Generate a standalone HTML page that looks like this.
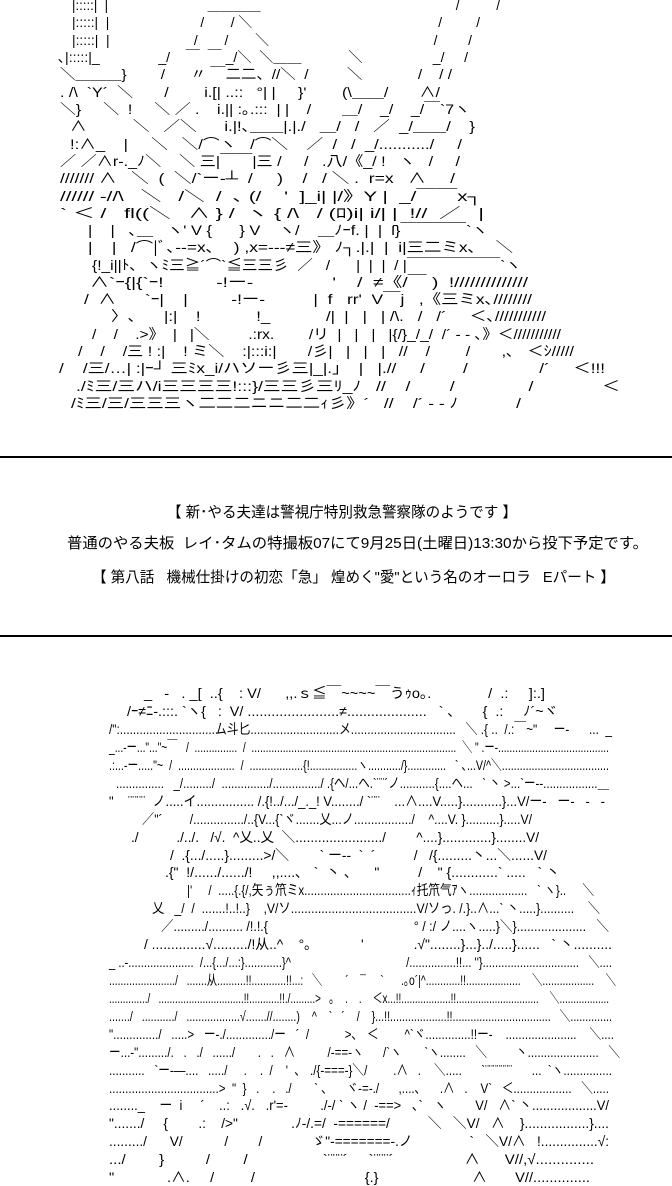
<!DOCTYPE html>
<html><head><meta charset="utf-8">
<style>
html,body{margin:0;padding:0;background:#fff;}
body{width:672px;height:1185px;position:relative;overflow:hidden;font-family:"Liberation Sans","Noto Sans CJK JP",sans-serif;color:#000;}
.f{position:absolute;white-space:pre;font-size:14px;line-height:18px;height:18px;transform-origin:0 0;}
.t{position:absolute;white-space:pre;font-size:15px;line-height:18px;transform-origin:0 0;}
.hr{position:absolute;left:0;width:672px;height:2px;background:#000;}
</style></head><body>

<div class="f" style="top:-4px;--l:72;--r:500">|:::::|  |                           ＿＿＿＿                                                     /          /</div>
<div class="f" style="top:13px;--l:72;--r:480">|:::::|  |                        /       / ＼                                                 /         /</div>
<div class="f" style="top:31px;--l:72;--r:472">|:::::|  |                      /       /       ＼                                           /        /</div>
<div class="f" style="top:48px;--l:58;--r:468">､|:::::|_               _/    ￣  ￣ _/＼  ＼＿＿            ＼                  _/     /</div>
<div class="f" style="top:65px;--l:60;--r:452">＼＿＿＿}        /      〃 ￣二二、//＼  /         ＼             /    / /</div>
<div class="f" style="top:83px;--l:60;--r:440">. /\  `Y´  ＼       /        i.[| ..::   °| |     }'        (\＿＿/       ∧/</div>
<div class="f" style="top:100px;--l:60;--r:470">＼}     ＼  !     ＼ ／ .    i.|| :｡.:::  | |    /       ＿/    _/    _/￣`7ヽ</div>
<div class="f" style="top:117px;--l:70;--r:475">∧          ＼   ／＼      i.|!､＿＿|.|./   ＿/   /   ／  _/＿＿/    }</div>
<div class="f" style="top:135px;--l:70;--r:462">!:∧_    |     ＼   ＼/⌒ヽ   /⌒＼    ／  /   /  _/.........../     /</div>
<div class="f" style="top:152px;--l:60;--r:460">／ ／∧r-._ﾉ＼    ＼ 三|￣￣|三 /     /   .八/《_/ !   ヽ   /     /</div>
<div class="f" style="top:169px;--l:60;--r:455">/////// ∧   ＼  (  ＼/`ー-┴  /     )    /   / ＼ .  r=x   ∧     /</div>
<div class="f" style="top:187px;--l:60;--r:482">////// -//\   ＼   /＼  /  ､ (/    '  ]_i| |/》Y |  _/￣￣x┐</div>
<div class="f" style="top:204px;--l:60;--r:484">` ＜ /   fl((＼   ∧ } /  ヽ { /\   / (ﾛ)i| i/| |  !//  ／   |</div>
<div class="f" style="top:221px;--l:88;--r:488">|    |   ､＿   ヽ' V {      } V    ヽ/    ＿ﾉｰf. |  |  ſ}￣￣￣￣`ヽ</div>
<div class="f" style="top:238px;--l:88;--r:513">|    |   /⌒|ﾞ､--=x､    ) ,x=---≠三》 ﾉ┐.|.|  |  i|三二ミx､    ＼</div>
<div class="f" style="top:256px;--l:92;--r:521">{!_i||ﾄ､  ヽﾐ三≧´⌒`≦三三彡  ／   /      |  |  |  / |￣￣￣￣￣￣`ヽ</div>
<div class="f" style="top:273px;--l:90;--r:528">∧`ｰ{|{`ｰ!          -!ー-               '    /  ≠《/￣ )  !//////////////</div>
<div class="f" style="top:290px;--l:84;--r:532">/  ∧      `ｰ|    |         -!ー-          |  f   rr'  V￣j   ,《三ミx､////////</div>
<div class="f" style="top:307px;--l:111;--r:546">〉､      |:|    !            !_            /|  |   |   | /\.   /   /´     ＜､///////////</div>
<div class="f" style="top:325px;--l:92;--r:561">/    /    .&gt;》  |   |＼         .:rx.        /リ  |   |   |   |{/}_/_/  /´ ‐ ‐ ､》＜///////////</div>
<div class="f" style="top:342px;--l:78;--r:574">/    /    /三 ! :|    ! ミ＼    :|:::i:|       /彡|   |   |   |   //    /        /       ,､   ＜ｼ/////</div>
<div class="f" style="top:359px;--l:59;--r:605">/    /三/…| :|ｰ┘ 三ﾐx_i/ハソー彡三|_|.」  |   |.//     /        /               /´     ＜!!!</div>
<div class="f" style="top:377px;--l:76;--r:620">./ﾐ三/三ハ/i三三三三!:::}/三三彡三ﾘ_ﾉ   //    /        /               /              ＜</div>
<div class="f" style="top:394px;--l:71;--r:521">/ﾐ三/三/三三三ヽ二二二ニニ二二ｨ彡》´   //    /´ ‐ ‐ ﾉ            /</div>

<div class="hr" style="top:456px"></div>
<div class="t" style="top:504px;--l:167;--r:517">【 新･やる夫達は警視庁特別救急警察隊のようです 】</div>
<div class="t" style="top:535px;--l:67;--r:648">普通のやる夫板  レイ･タムの特撮板07にて9月25日(土曜日)13:30から投下予定です。</div>
<div class="t" style="top:569px;--l:92;--r:615">【 第八話   機械仕掛けの初恋「急」 煌めく"愛"という名のオーロラ   Eパート 】</div>
<div class="hr" style="top:635px"></div>

<div class="f" style="top:684px;--l:144;--r:545">_   -   . _[  ..{    : V/      ,,.ｓ≦￣~~~~￣うｩo｡.              /  .:     ]:.]</div>
<div class="f" style="top:702px;--l:127;--r:558">/ｰ≠ﾆ-.:::. `ヽ{   :  V/ .......................≠....................   ` ､       {  .:     ﾉ´~ヾ</div>
<div class="f" style="top:720px;--l:109;--r:612">/":.............................ム斗匕...........................メ................................   ＼ .{ ..  /.:￣~"     ー-      ...  _</div>
<div class="f" style="top:738px;--l:109;--r:609">_...-ー..."..."~￣   /  ...............  /  ........................................................................  ＼ " .ー-.......................................</div>
<div class="f" style="top:756px;--l:109;--r:609">.:...-ー....."~  /  ...................  /  ..................{!................ヽ.........../}.............   ` ､...V/^＼....................................</div>
<div class="f" style="top:774px;--l:116;--r:609">...............   _/........./  .............../.............../ .{ヘ/...ヘ.`¨¨´ノ...........{....ヘ...   ` 丶 &gt;...`ー--.................＿</div>
<div class="f" style="top:792px;--l:109;--r:605">"    ¨¨¨¨  ノ.....イ................ /.{!../.../_._! V......../ `¨¨    ...∧....V.....}...........}...V/ー-   ー-   -   -</div>
<div class="f" style="top:810px;--l:142;--r:532">／"´        /.............../..{V...{`ヾ.......乂...ノ................./    ^....V. }..........}.....V/</div>
<div class="f" style="top:828px;--l:131;--r:539">./          ./../.   /√.  ^乂..乂  ＼......................./        ^....}.............}........V/</div>
<div class="f" style="top:846px;--l:170;--r:547">/  .{.../.....}.........&gt;/＼        ` ー--  `  ´          /   /{.........丶...＼......V/</div>
<div class="f" style="top:863px;--l:165;--r:560">.{"  !/....../....../!     ,,....､   `  丶 ､      "          /    " {............` .....   ` 丶</div>
<div class="f" style="top:881px;--l:187;--r:594">|'     /  .....{.{/,矢ぅ笊ミx.................................ｨ托笊气ｱヽ..................   ` ヽ}..     ＼</div>
<div class="f" style="top:899px;--l:152;--r:600">乂   _/  /  .......!..!..}    ,V/ソ.....................................V/ソっ. /.}..∧...` 丶.....}..........    ＼</div>
<div class="f" style="top:917px;--l:161;--r:609">／........./.......... /!.!.{                                          ° / :/ ノ....ヽ.....}＼}....................   ＼</div>
<div class="f" style="top:935px;--l:144;--r:612">/ ..............√........./!从..^    °｡             '             .√"........}...}../.....}......   ` 丶..........</div>
<div class="f" style="top:953px;--l:109;--r:612">_ ..-.....................  /...{.../...:}............}^                                     /...............!!... ''}...............................   ＼....</div>
<div class="f" style="top:971px;--l:109;--r:616">......................./   .......从..........!!............!!...:   ＼        ´    ¯     `      .｡o´|^............!!...................    ＼..................    ＼</div>
<div class="f" style="top:989px;--l:109;--r:609">............../   ...............................!!...........!!./.........&gt;   ｡    .    .    ＜x...!!..................!!..............................    ＼..................</div>
<div class="f" style="top:1007px;--l:109;--r:612">......./   .........../   ..................√.......//........)    ^    `   ´    /    }...!!...................!!.................................   ＼..............</div>
<div class="f" style="top:1025px;--l:109;--r:614">"............../   .....&gt;   ー-./............../ー   ´  /           &gt;､   ＜        ^`ヾ..............!!ー-    ......................    ＼....</div>
<div class="f" style="top:1043px;--l:109;--r:620">ー...-"........./.   .   ./   ....../       .   .   ∧          /-==-ヽ      /`ヽ       `ヽ........   ＼         丶......................   ＼</div>
<div class="f" style="top:1061px;--l:109;--r:612">...........   `ー-―....   ...../     .    .  /    '  ､   ./{-===-}＼/        .∧   .    ＼.....      `¨¨¨¨¨¨¨      ...  `ヽ...............</div>
<div class="f" style="top:1079px;--l:109;--r:609">..................................&gt;  "  }   .    .   ./       ` ､      ヾ-=-./      ,....､      .∧   .    V`   ＜..................   ＼.....</div>
<div class="f" style="top:1096px;--l:109;--r:609">........_    ー  i     ´    ..:   .√.   .r'=-         ./-/ ` ヽ /  -==&gt;   ､`   ヽ        V/   ∧` 丶..................V/</div>
<div class="f" style="top:1114px;--l:109;--r:609">"......./     {        .:    /&gt;"              .ﾉ-/.=/  -======/          ＼   ＼V/   ∧    }.................}....</div>
<div class="f" style="top:1132px;--l:109;--r:609">........./      V/           /        /             ゞ"-=======-.ノ               `   ＼V/∧   !...............√:</div>
<div class="f" style="top:1150px;--l:109;--r:594">.../        }          /        /                  `¨¨¨´     `¨¨¨´                 ∧      V//,√..............</div>
<div class="f" style="top:1168px;--l:109;--r:590">"             .∧.     /         /                           {.}                       ∧       V//..............</div>

<script>
(function(){
  var els=document.querySelectorAll('.f,.t');
  for(var i=0;i<els.length;i++){
    var e=els[i],cs=getComputedStyle(e);
    var l=parseFloat(cs.getPropertyValue('--l')),r=parseFloat(cs.getPropertyValue('--r'));
    e.style.left=l+'px';
    var w=e.getBoundingClientRect().width;
    if(w>0){e.style.transform='scaleX('+((r-l)/w)+')';}
  }
})();
</script>
</body></html>
